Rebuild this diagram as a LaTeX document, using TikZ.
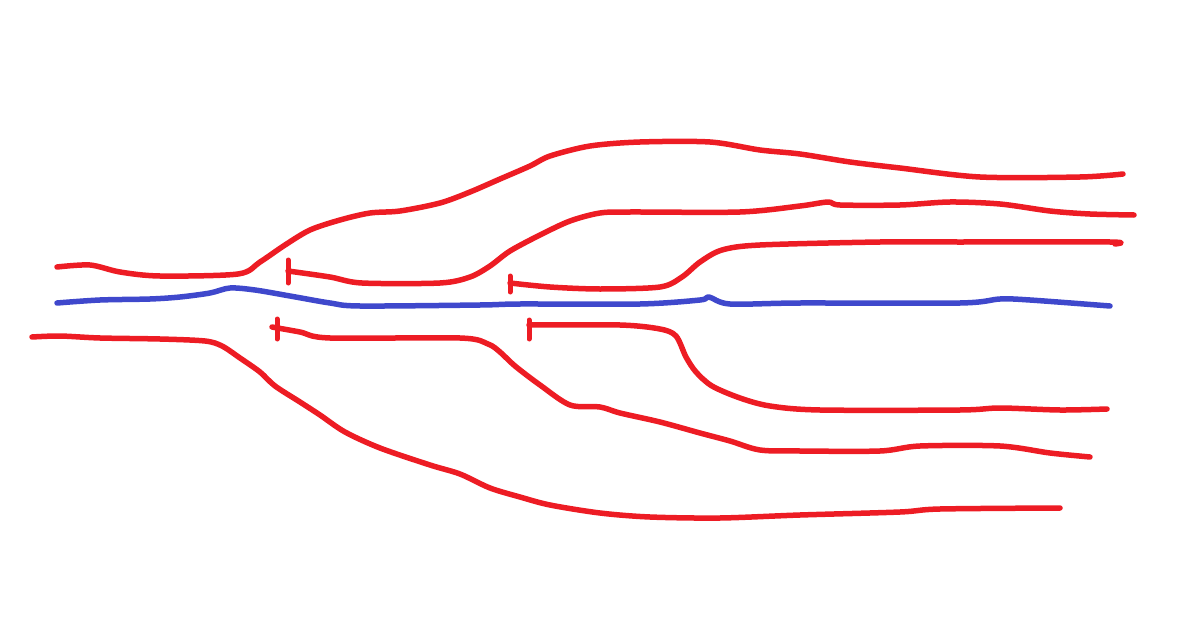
\documentclass[tikz,border=0pt]{standalone}
\usepackage{tikz}
\definecolor{sketchred}{HTML}{ED1C24}
\definecolor{sketchblue}{HTML}{3F48CC}

\begin{document}
\begin{tikzpicture}[x=1pt, y=-1pt, line cap=round, line join=round,
    redline/.style={draw=sketchred, line width=5.5pt},
    blueline/.style={draw=sketchblue, line width=5.5pt},
    stopbar/.style={draw=sketchred, line width=5pt}]
  \useasboundingbox (0,0) rectangle (1179,634);

  %--- outer upper branch --------------------------------------------------
  \draw[redline] plot[smooth, tension=0.5] coordinates {
    (57,267) (90,265) (120,272) (160,276) (238,274) (260,262) (285,245)
    (310,230) (340,220) (370,213) (400,211) (440,203) (470,192) (500,179)
    (530,166) (550,156) (590,146) (640,142) (710,142) (760,150) (800,154)
    (850,162) (900,168) (980,177) (1080,177) (1123,174)};

  %--- second upper branch, starts at stop bar -----------------------------
  \coordinate (B1) at (288,271);
  \draw[stopbar] (288,260) -- (288,283);
  \draw[redline] plot[smooth, tension=0.5] coordinates {
    (B1) (330,277) (362,283) (440,283) (470,277) (490,266) (510,251)
    (540,235) (570,221) (600,213) (630,212) (740,212) (800,206) (828,202)
    (840,205) (900,205) (950,202) (1000,204) (1050,211) (1090,214) (1134,215)};

  %--- third upper branch --------------------------------------------------
  \coordinate (B2) at (510,283);
  \draw[stopbar] (510,276) -- (510,292);
  \draw[redline] plot[smooth, tension=0.5] coordinates {
    (B2) (550,287) (600,289) (660,287) (682,277) (700,262) (722,250)
    (760,245) (880,242) (960,242) (1110,242) (1115,244)};

  %--- blue middle line ----------------------------------------------------
  \draw[blueline] plot[smooth, tension=0.5] coordinates {
    (57,303) (100,300) (150,299) (180,297) (210,293) (230,288) (255,290)
    (290,296) (330,303) (360,306) (480,305) (520,304) (640,304) (700,300)
    (709,297) (730,304) (800,303) (960,303) (1000,299) (1030,300) (1110,306)};

  %--- first lower branch --------------------------------------------------
  \coordinate (B3) at (272,327);
  \draw[stopbar] (277,319) -- (277,339);
  \draw[redline] plot[smooth, tension=0.5] coordinates {
    (B3) (300,332) (330,338) (460,338) (488,344) (500,352) (515,366)
    (540,385) (570,405) (600,407) (620,413) (660,422) (700,433) (730,441)
    (760,450) (800,451) (880,451) (920,446) (1000,446) (1050,453) (1090,457)};

  %--- second lower branch -------------------------------------------------
  \coordinate (B4) at (529,325);
  \draw[stopbar] (529,320) -- (529,339);
  \draw[redline] plot[smooth, tension=0.5] coordinates {
    (B4) (620,325) (660,329) (676,336) (686,357) (696,372) (712,386)
    (740,398) (770,406) (820,410) (960,410) (1000,408) (1060,410) (1107,409)};

  %--- outer lower branch --------------------------------------------------
  \draw[redline] plot[smooth, tension=0.5] coordinates {
    (32,337) (60,336) (100,338) (160,339) (205,341) (222,346) (240,358)
    (260,372) (275,386) (300,402) (320,415) (345,432) (380,448) (430,465)
    (460,474) (490,488) (520,497) (550,505) (600,513) (650,517) (720,518)
    (800,515) (900,512) (940,509) (1060,508)};
\end{tikzpicture}
\end{document}
